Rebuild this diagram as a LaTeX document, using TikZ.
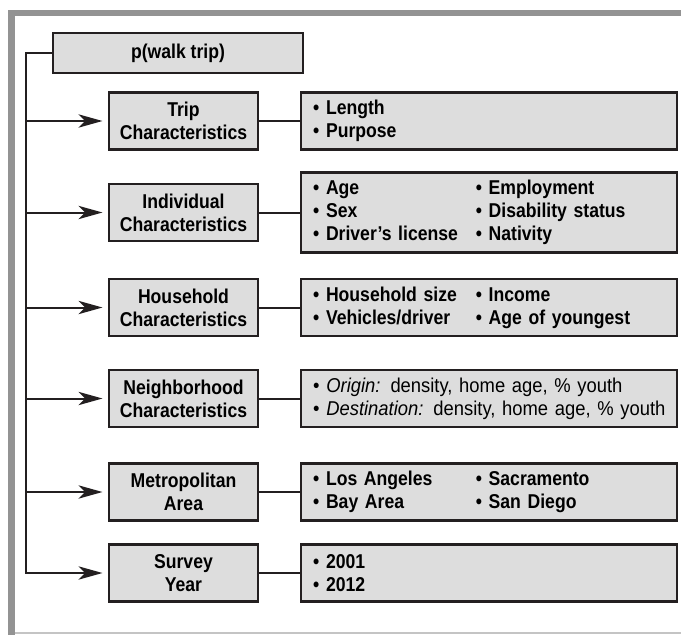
\documentclass[tikz,border=0pt]{standalone}
\usepackage{fontspec}
\setmainfont{Liberation Sans}[FakeStretch=0.88]
\newfontfamily\nbfont{Liberation Sans}[FakeStretch=0.92]
\usetikzlibrary{arrows.meta}
\definecolor{boxfill}{HTML}{DDDDDD}
\definecolor{boxline}{HTML}{231F20}
\definecolor{framegray}{HTML}{939393}
\definecolor{framelight}{HTML}{C4C4C4}
\tikzset{
 catbox/.style={draw=boxline, line width=1.8pt, fill=boxfill, minimum width=111.75pt,
   minimum height=42.75pt, align=center, inner sep=0pt,
   font=\fontsize{15}{17.25}\selectfont\bfseries},
 itembox/.style={draw=boxline, line width=1.8pt, fill=boxfill, minimum width=282pt,
   minimum height=42.75pt, text width=264pt, align=left, inner xsep=9pt, inner ysep=0pt,
   anchor=west, font=\fontsize{15}{17.25}\selectfont\bfseries},
 conn/.style={line width=1.5pt, draw=boxline},
 arr/.style={conn, -{Stealth[length=18pt,width=10pt,inset=5pt]}, shorten >=4pt},
}
\newcommand{\colA}[1]{\makebox[122pt][l]{#1}}
\begin{document}
\begin{tikzpicture}[x=0.75pt, y=-0.75pt]
\useasboundingbox (0,0) rectangle (681,635);
\fill[white] (0,0) rectangle (681,635);
% frame
\fill[framegray] (8,10) rectangle (681,16);
\fill[framegray] (8,10) rectangle (15,635);
\fill[framelight] (15,631.5) rectangle (681,633.5);
\coordinate (sp) at (26,0);
% boxes
\node[catbox, minimum width=187.5pt, minimum height=30pt] (p) at (178,53) {p(walk trip)};
\node[catbox] (trip) at (183.5,121) {Trip\\Characteristics};
\node[itembox] (tripi) at (300,121) {\textbullet{} Length\\\textbullet{} Purpose};
\node[catbox] (ind) at (183.5,212.5) {Individual\\Characteristics};
\node[itembox, minimum height=60pt] (indi) at (300,212.5) {\colA{\textbullet{} Age}\textbullet{} Employment\\\colA{\textbullet{} Sex}\textbullet{} Disability status\\\colA{\textbullet{} Driver’s license}\textbullet{} Nativity};
\node[catbox] (hh) at (183.5,307.5) {Household\\Characteristics};
\node[itembox] (hhi) at (300,307.5) {\colA{\textbullet{} Household size}\textbullet{} Income\\\colA{\textbullet{} Vehicles/driver}\textbullet{} Age of youngest};
\node[catbox] (nb) at (183.5,398.5) {Neighborhood\\Characteristics};
\node[itembox, font=\fontsize{15}{17.25}\selectfont\nbfont] (nbi) at (300,398.5) {\mbox{\textbullet{} \textit{Origin:} density, home age, \% youth}\\\mbox{\textbullet{} \textit{Destination:} density, home age, \% youth}};
\node[catbox] (met) at (183.5,492) {Metropolitan\\Area};
\node[itembox] (meti) at (300,492) {\colA{\textbullet{} Los Angeles}\textbullet{} Sacramento\\\colA{\textbullet{} Bay Area}\textbullet{} San Diego};
\node[catbox] (sy) at (183.5,573) {Survey\\Year};
\node[itembox] (syi) at (300,573) {\textbullet{} 2001\\\textbullet{} 2012};
% connectors
\draw[arr] (p.west) -| (sp |- sy.west) -- (sy.west);
\foreach \n in {trip,ind,hh,nb,met} {
  \draw[arr] (sp |- \n.west) -- (\n.west);
}
\foreach \n in {trip,ind,hh,nb,met,sy} {
  \draw[conn] (\n.east) -- (\n i.west |- \n.east);
}
\end{tikzpicture}
\end{document}
